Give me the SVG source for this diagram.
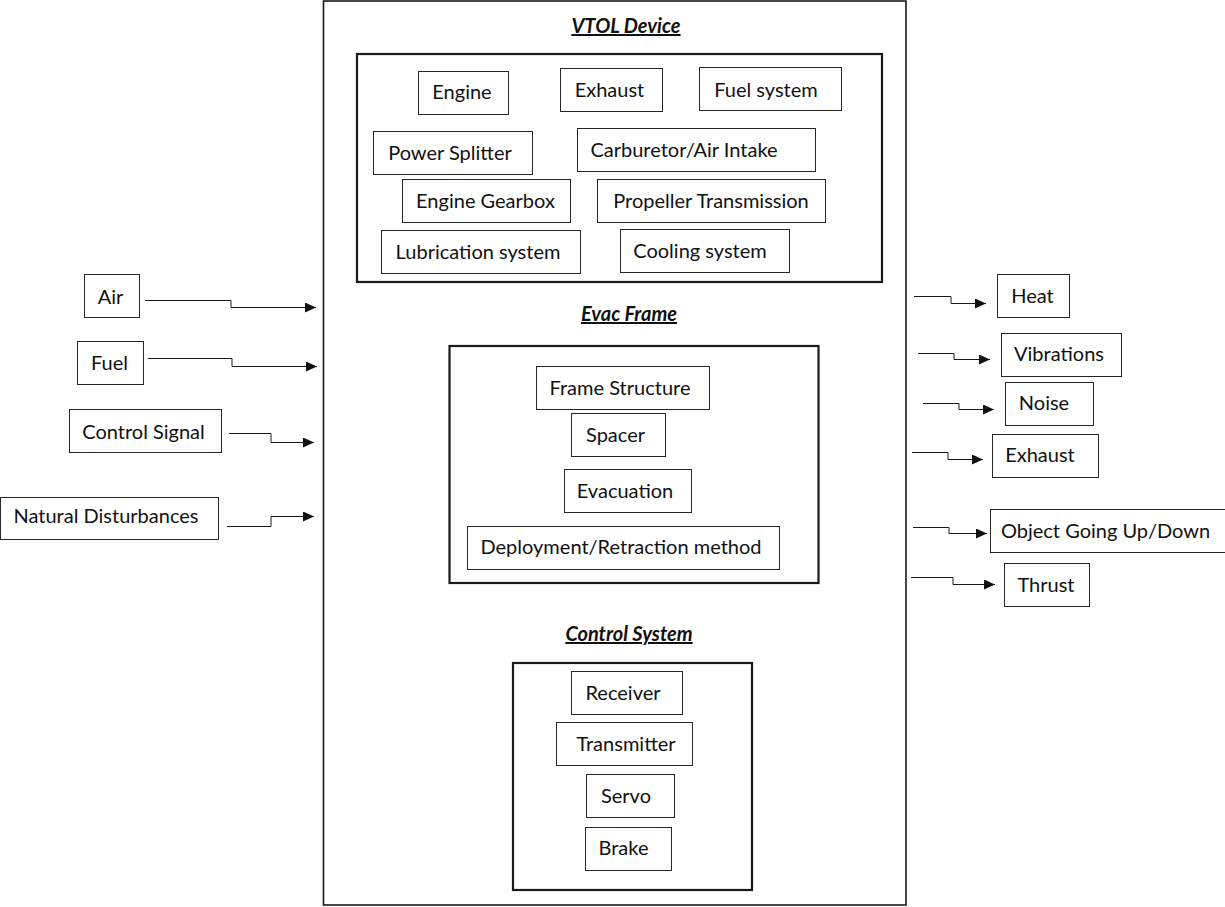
<svg xmlns="http://www.w3.org/2000/svg" width="1225" height="907" viewBox="0 0 1225 907">
  <style>
    .bg { fill: #ffffff; }
    .outer { fill: none; stroke: #1a1a1a; stroke-width: 1.6; }
    .group { fill: none; stroke: #1a1a1a; stroke-width: 2.2; }
    .box { fill: #ffffff; stroke: #262626; stroke-width: 1; }
    .lbl { font-family: Lato, "Liberation Sans", sans-serif; font-size: 20px; fill: #111111; text-anchor: middle; }
    .title { font-family: Lato, "Liberation Sans", sans-serif; font-size: 20px; font-weight: bold; font-style: italic; text-decoration: underline; fill: #111111; text-anchor: middle; }
    .wire { fill: none; stroke: #1a1a1a; stroke-width: 1; }
  </style>
  <defs>
    <marker id="arrow" markerUnits="userSpaceOnUse" markerWidth="11" markerHeight="10" refX="11" refY="5" orient="auto">
      <path d="M0,0 L11,5 L0,10 Z" fill="#111111"/>
    </marker>
  </defs>

  <rect class="bg" x="0" y="0" width="1225" height="907"/>

  <!-- system boundary -->
  <g id="system">
    <rect class="outer" x="323.5" y="1" width="582.5" height="904"/>
  </g>

  <!-- VTOL device subsystem -->
  <g id="vtol-device">
    <text class="title" x="626" y="33">VTOL Device</text>
    <rect class="group" x="357" y="54" width="525" height="228"/>
  </g>
  <g id="engine"><rect class="box" x="418.5" y="71.5" width="90" height="43"/><text class="lbl" x="462" y="98.5">Engine</text></g>
  <g id="exhaust-part"><rect class="box" x="560.5" y="68.5" width="102" height="43"/><text class="lbl" x="609.5" y="96.5">Exhaust</text></g>
  <g id="fuel-system"><rect class="box" x="699.5" y="67.5" width="142" height="43"/><text class="lbl" x="766" y="96.5">Fuel system</text></g>
  <g id="power-splitter"><rect class="box" x="373.5" y="131.5" width="159" height="43"/><text class="lbl" x="450" y="159.5">Power Splitter</text></g>
  <g id="carburetor"><rect class="box" x="577.5" y="128.5" width="238" height="43"/><text class="lbl" x="684" y="156.5">Carburetor/Air Intake</text></g>
  <g id="engine-gearbox"><rect class="box" x="402.5" y="179.5" width="168" height="43"/><text class="lbl" x="485.5" y="207.5">Engine Gearbox</text></g>
  <g id="propeller-transmission"><rect class="box" x="597.5" y="179.5" width="228" height="43"/><text class="lbl" x="711" y="207.5">Propeller Transmission</text></g>
  <g id="lubrication-system"><rect class="box" x="381.5" y="230.5" width="199" height="43"/><text class="lbl" x="478" y="258.5">Lubrication system</text></g>
  <g id="cooling-system"><rect class="box" x="620.5" y="229.5" width="169" height="43"/><text class="lbl" x="700" y="257.5">Cooling system</text></g>

  <!-- evacuation frame subsystem -->
  <g id="evac-frame">
    <text class="title" x="629" y="321">Evac Frame</text>
    <rect class="group" x="449.5" y="346" width="369" height="237"/>
  </g>
  <g id="frame-structure"><rect class="box" x="536.5" y="366.5" width="173" height="43"/><text class="lbl" x="620" y="394.5">Frame Structure</text></g>
  <g id="spacer"><rect class="box" x="571.5" y="413.5" width="94" height="43"/><text class="lbl" x="615.5" y="441.5">Spacer</text></g>
  <g id="evacuation"><rect class="box" x="564.5" y="469.5" width="127" height="43"/><text class="lbl" x="625" y="497.5">Evacuation</text></g>
  <g id="deployment"><rect class="box" x="467.5" y="526.5" width="312" height="43"/><text class="lbl" x="621" y="553.5">Deployment/Retraction method</text></g>

  <!-- control subsystem -->
  <g id="control-system">
    <text class="title" x="629" y="641">Control System</text>
    <rect class="group" x="513" y="663" width="239" height="227"/>
  </g>
  <g id="receiver"><rect class="box" x="571.5" y="671.5" width="111" height="43"/><text class="lbl" x="623" y="699.5">Receiver</text></g>
  <g id="transmitter"><rect class="box" x="556.5" y="722.5" width="136" height="43"/><text class="lbl" x="626" y="750.5">Transmitter</text></g>
  <g id="servo"><rect class="box" x="586.5" y="774.5" width="88" height="43"/><text class="lbl" x="626" y="802.5">Servo</text></g>
  <g id="brake"><rect class="box" x="585.5" y="827.5" width="86" height="43"/><text class="lbl" x="623.5" y="854.5">Brake</text></g>

  <!-- inputs -->
  <g id="in-air"><rect class="box" x="84.5" y="274.5" width="55" height="43"/><text class="lbl" x="110.5" y="303.5">Air</text></g>
  <g id="in-fuel"><rect class="box" x="77.5" y="341.5" width="66" height="43"/><text class="lbl" x="109.5" y="369.5">Fuel</text></g>
  <g id="in-control-signal"><rect class="box" x="69.5" y="409.5" width="152" height="43"/><text class="lbl" x="143.5" y="438.5">Control Signal</text></g>
  <g id="in-natural-disturbances"><rect class="box" x="0.5" y="497.5" width="218" height="42"/><text class="lbl" x="106" y="522.5">Natural Disturbances</text></g>

  <!-- outputs -->
  <g id="out-heat"><rect class="box" x="997.5" y="274.5" width="72" height="43"/><text class="lbl" x="1032.5" y="302.5">Heat</text></g>
  <g id="out-vibrations"><rect class="box" x="1001.5" y="333.5" width="120" height="43"/><text class="lbl" x="1059" y="360.5">Vibrations</text></g>
  <g id="out-noise"><rect class="box" x="1005.5" y="382.5" width="88" height="43"/><text class="lbl" x="1044" y="409.5">Noise</text></g>
  <g id="out-exhaust"><rect class="box" x="992.5" y="434.5" width="106" height="43"/><text class="lbl" x="1040" y="461.5">Exhaust</text></g>
  <g id="out-object-motion"><rect class="box" x="990.5" y="509.5" width="240" height="43"/><text class="lbl" x="1105.5" y="537.5">Object Going Up/Down</text></g>
  <g id="out-thrust"><rect class="box" x="1004.5" y="563.5" width="85" height="43"/><text class="lbl" x="1046" y="591.5">Thrust</text></g>

  <!-- flows into and out of the system -->
  <g id="connectors">
    <polyline class="wire" points="145,300.5 231,300.5 231,307.5 316,307.5" marker-end="url(#arrow)"/>
    <polyline class="wire" points="148,358.5 232,358.5 232,366.5 317,366.5" marker-end="url(#arrow)"/>
    <polyline class="wire" points="229,433.5 271,433.5 271,442.5 314,442.5" marker-end="url(#arrow)"/>
    <polyline class="wire" points="227,526.5 271,526.5 271,516.5 314,516.5" marker-end="url(#arrow)"/>

    <polyline class="wire" points="914,296.5 951,296.5 951,303.5 986,303.5" marker-end="url(#arrow)"/>
    <polyline class="wire" points="918,353.5 954,353.5 954,359.5 990,359.5" marker-end="url(#arrow)"/>
    <polyline class="wire" points="923,403.5 959,403.5 959,409.5 994,409.5" marker-end="url(#arrow)"/>
    <polyline class="wire" points="912,452.5 948,452.5 948,459.5 983,459.5" marker-end="url(#arrow)"/>
    <polyline class="wire" points="913,527.5 949,527.5 949,533.5 987,533.5" marker-end="url(#arrow)"/>
    <polyline class="wire" points="911,577.5 953,577.5 953,584.5 995,584.5" marker-end="url(#arrow)"/>
  </g>
</svg>
